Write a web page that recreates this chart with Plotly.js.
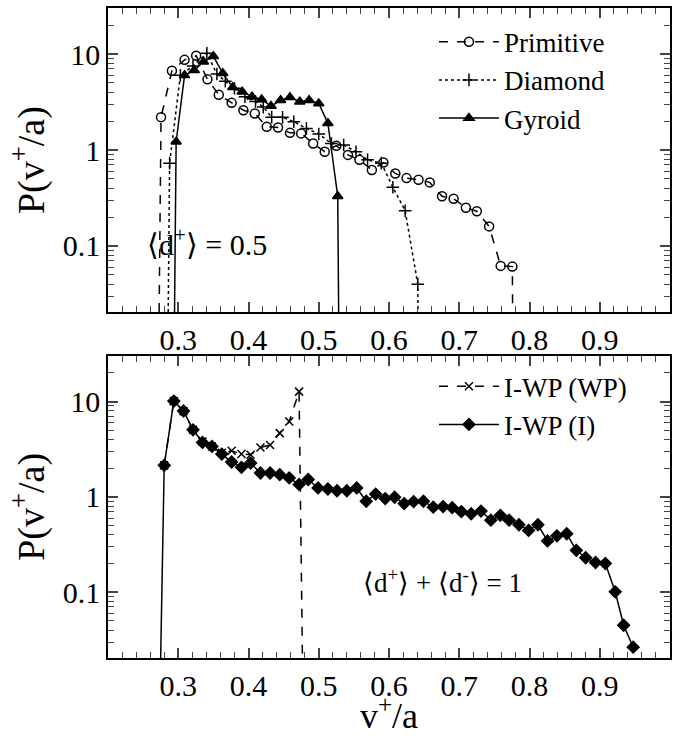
<!DOCTYPE html>
<html>
<head>
<meta charset="utf-8">
<script src="https://cdn.plot.ly/plotly-3.0.1.min.js"></script>
<style>body{margin:0;background:#fff}</style>
</head>
<body>
<div id="myDiv" style="width:686px;height:736px"></div>
<script>
// top panel, <d+> = 0.5
var primX = [0.271, 0.2755, 0.291, 0.309, 0.3255, 0.3416, 0.3577, 0.376, 0.3927, 0.409, 0.426, 0.442, 0.459, 0.475, 0.492, 0.5085, 0.525, 0.5416, 0.558, 0.5756, 0.592, 0.609, 0.625, 0.642, 0.658, 0.6755, 0.692, 0.7095, 0.725, 0.7425, 0.759, 0.7756, 0.777];
var primY = [0.001, 2.2, 6.7, 8.7, 9.6, 5.45, 3.77, 3.1, 2.6, 2.4, 1.75, 1.72, 1.51, 1.49, 1.17, 0.96, 1.11, 0.89, 0.79, 0.62, 0.74, 0.57, 0.51, 0.49, 0.46, 0.33, 0.31, 0.25, 0.23, 0.16, 0.062, 0.061, 0.001];
var diamX = [0.284, 0.2877, 0.303, 0.321, 0.3407, 0.355, 0.367, 0.38, 0.395, 0.41, 0.421, 0.433, 0.4485, 0.4645, 0.4825, 0.5, 0.518, 0.5355, 0.553, 0.5695, 0.589, 0.6055, 0.623, 0.641, 0.6425];
var diamY = [0.001, 0.73, 6.0, 7.5, 10.2, 6.2, 5.2, 4.4, 3.6, 3.2, 2.8, 2.2, 2.19, 1.97, 1.68, 1.47, 1.17, 1.13, 0.96, 0.79, 0.73, 0.41, 0.233, 0.040, 0.001];
var gyrX = [0.293, 0.297, 0.309, 0.3227, 0.336, 0.35, 0.3634, 0.3776, 0.391, 0.405, 0.4187, 0.432, 0.4457, 0.459, 0.473, 0.4863, 0.5, 0.513, 0.527, 0.5298];
var gyrY = [0.001, 1.22, 6.0, 6.8, 8.3, 9.5, 6.3, 4.5, 4.05, 3.6, 3.37, 2.87, 3.3, 3.54, 3.19, 3.3, 3.06, 1.9, 0.33, 0.001];

// bottom panel, <d+> + <d-> = 1
var wpX = [0.28, 0.2937, 0.3075, 0.321, 0.3345, 0.348, 0.362, 0.376, 0.39, 0.403, 0.417, 0.4307, 0.4445, 0.458, 0.472, 0.479];
var wpY = [2.14, 10.1, 7.9, 5.05, 3.8, 3.38, 2.9, 3.04, 2.81, 2.77, 3.3, 3.5, 4.66, 6.16, 12.7, 0.001];
var iX = [0.2717, 0.28, 0.2937, 0.3075, 0.321, 0.3345, 0.348, 0.362, 0.376, 0.39, 0.403, 0.417, 0.4307, 0.4445, 0.458, 0.472, 0.485, 0.499, 0.513, 0.526, 0.54, 0.554, 0.5676, 0.581, 0.5946, 0.608, 0.6216, 0.635, 0.649, 0.663, 0.677, 0.69, 0.703, 0.717, 0.731, 0.745, 0.7585, 0.771, 0.785, 0.7987, 0.812, 0.8257, 0.839, 0.853, 0.8666, 0.88, 0.894, 0.908, 0.922, 0.934, 0.9476];
var iY = [0.001, 2.14, 10.1, 7.95, 5.05, 3.72, 3.38, 2.81, 2.32, 2.04, 2.26, 1.78, 1.78, 1.71, 1.58, 1.35, 1.52, 1.24, 1.21, 1.16, 1.16, 1.24, 0.90, 1.07, 0.96, 0.99, 0.85, 0.89, 0.9, 0.78, 0.79, 0.77, 0.70, 0.665, 0.71, 0.57, 0.64, 0.57, 0.51, 0.445, 0.51, 0.345, 0.39, 0.41, 0.275, 0.23, 0.205, 0.20, 0.101, 0.045, 0.0265];

var tickX = [0.3, 0.4, 0.5, 0.6, 0.7, 0.8, 0.9];
var tickY = [0.1, 1, 10];
var minorY = [0.03, 0.04, 0.05, 0.06, 0.07, 0.08, 0.09, 0.2, 0.3, 0.4, 0.5, 0.6, 0.7, 0.8, 0.9, 2, 3, 4, 5, 6, 7, 8, 9, 20];

var serif = 'Liberation Serif, serif';

function tr(x, y, name, dash, sym, size, xa, ya, leg) {
    return {
        x: x, y: y, name: name, mode: 'lines+markers', type: 'scatter',
        xaxis: xa, yaxis: ya, legend: leg,
        line: {color: 'black', width: 1.5, dash: dash},
        marker: {symbol: sym, size: size, color: 'black', line: {color: 'black', width: 1.5}}
    };
}

var data = [
    tr(primX, primY, 'Primitive', 'dash', 'circle-open', 9, 'x', 'y', 'legend'),
    tr(diamX, diamY, 'Diamond', 'dot', 'cross-thin-open', 9, 'x', 'y', 'legend'),
    tr(gyrX, gyrY, 'Gyroid', 'solid', 'triangle-up', 9, 'x', 'y', 'legend'),
    tr(wpX, wpY, 'I-WP (WP)', 'dash', 'x-thin-open', 8, 'x2', 'y2', 'legend2'),
    tr(iX, iY, 'I-WP (I)', 'solid', 'diamond', 9, 'x2', 'y2', 'legend2')
];

function xax(anchor, title) {
    var a = {
        range: [0.2, 1.0], tickvals: tickX, ticktext: tickX.map(String),
        ticks: 'inside', ticklen: 10, tickwidth: 1.5, mirror: 'allticks',
        showline: true, linewidth: 1.5, linecolor: 'black', showgrid: false, zeroline: false,
        minor: {dtick: 0.02, ticks: 'inside', ticklen: 6, tickwidth: 1, tick0: 0.2},
        tickfont: {family: serif, size: 30, color: 'black'}, anchor: anchor
    };
    if (title) a.title = {text: 'v<sup>+</sup>/a', font: {family: serif, size: 36, color: 'black'}, standoff: 8};
    return a;
}
function yax(anchor, dom) {
    return {
        type: 'log', range: [-1.69, 1.48], domain: dom, tickvals: tickY, ticktext: ['0.1', '1', '10'],
        ticks: 'inside', ticklen: 10, tickwidth: 1.5, mirror: 'allticks',
        showline: true, linewidth: 1.5, linecolor: 'black', showgrid: false, zeroline: false,
        minor: {tickvals: minorY, ticks: 'inside', ticklen: 6, tickwidth: 1},
        tickfont: {family: serif, size: 30, color: 'black'}, anchor: anchor,
        title: {text: 'P(v<sup>+</sup>/a)', font: {family: serif, size: 38, color: 'black'}, standoff: 6}
    };
}

var legStyle = {font: {family: serif, size: 27, color: 'black'}, bgcolor: 'rgba(0,0,0,0)',
    xanchor: 'left', yanchor: 'top', tracegroupgap: 0, itemwidth: 60};

var layout = {
    width: 686, height: 736,
    font: {family: serif, color: 'black'},
    margin: {l: 108, r: 16, t: 8, b: 78},
    paper_bgcolor: 'white', plot_bgcolor: 'white',
    showlegend: true,
    xaxis: xax('y'),
    yaxis: yax('x', [0.532, 1]),
    xaxis2: xax('y2', true),
    yaxis2: yax('x2', [0, 0.465]),
    legend: Object.assign({x: 0.58, y: 0.985}, legStyle),
    legend2: Object.assign({x: 0.58, y: 0.455}, legStyle),
    annotations: [
        {text: '\u27E8d<sup>+</sup>\u27E9 = 0.5', xref: 'x', yref: 'paper', x: 0.252, y: 0.64, xanchor: 'left',
         showarrow: false, font: {family: serif, size: 30, color: 'black'}},
        {text: '\u27E8d<sup>+</sup>\u27E9 + \u27E8d<sup>-</sup>\u27E9 = 1', xref: 'x2', yref: 'paper', x: 0.56, y: 0.09, xanchor: 'left',
         showarrow: false, font: {family: serif, size: 27, color: 'black'}}
    ]
};

Plotly.newPlot('myDiv', data, layout, {displayModeBar: false});
</script>
</body>
</html>
